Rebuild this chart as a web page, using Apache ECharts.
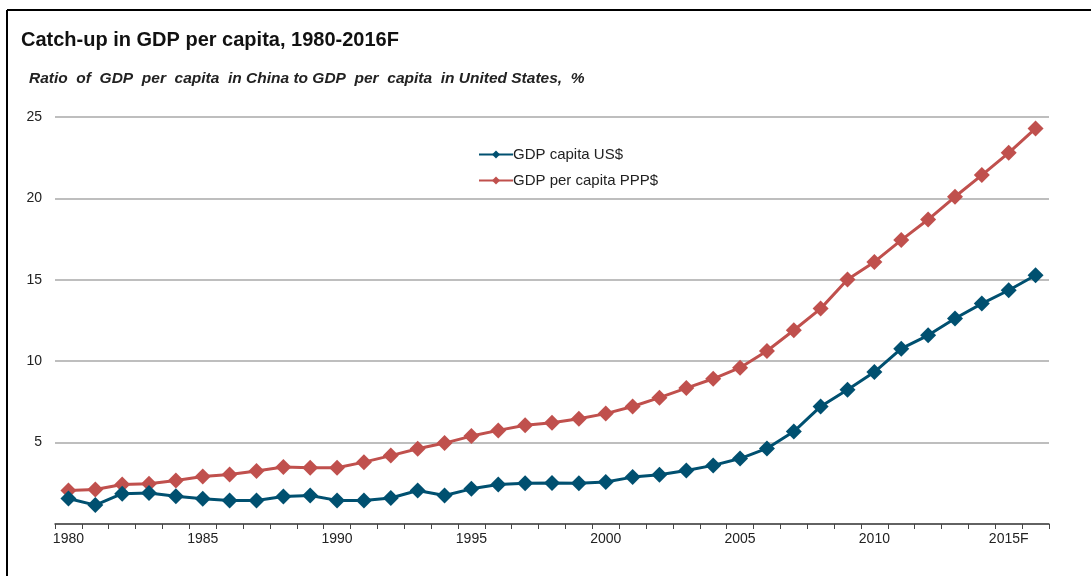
<!DOCTYPE html>
<html>
<head>
<meta charset="utf-8">
<script src="https://cdn.jsdelivr.net/npm/echarts@6/dist/echarts.min.js"></script>
<style>
html,body{margin:0;padding:0;background:#fff;}
#chart{width:1091px;height:576px;}
</style>
</head>
<body>
<div id="chart"></div>
<script>
var categories = ['1980','1981','1982','1983','1984','1985','1986','1987','1988','1989',
  '1990','1991','1992','1993','1994','1995','1996','1997','1998','1999',
  '2000','2001','2002','2003','2004','2005','2006','2007','2008','2009',
  '2010','2011','2012','2013','2014','2015F','2016'];
var gdpUsd = [1.57,1.16,1.86,1.9,1.71,1.55,1.45,1.45,1.69,1.75,
  1.45,1.45,1.6,2.06,1.75,2.16,2.43,2.5,2.52,2.5,
  2.58,2.88,3.02,3.29,3.6,4.02,4.64,5.68,7.22,8.25,
  9.33,10.77,11.59,12.62,13.54,14.36,15.28];
var gdpPpp = [2.06,2.12,2.43,2.47,2.67,2.92,3.04,3.25,3.5,3.45,
  3.45,3.8,4.2,4.62,4.97,5.4,5.75,6.06,6.22,6.47,
  6.78,7.22,7.76,8.35,8.92,9.6,10.63,11.9,13.23,15.02,
  16.1,17.44,18.7,20.1,21.43,22.8,24.3];
var seriesNames = ['GDP capita US$','GDP per capita PPP$'];
var yTicks = [0,5,10,15,20,25];

var chart = echarts.init(document.getElementById('chart'));
var font = 'Liberation Sans, Arial, sans-serif';
chart.setOption({
  backgroundColor:'#fff',
  animation:false,
  textStyle:{fontFamily:font},
  title:[
    {text:'Catch-up in GDP per capita, 1980-2016F', left:16, top:25,
     textStyle:{fontSize:20, fontWeight:'bold', color:'#111', fontFamily:font}},
    {text:'Ratio  of  GDP  per  capita  in China to GDP  per  capita  in United States,  %', left:24, top:66,
     textStyle:{fontSize:15.5, fontWeight:'bold', fontStyle:'italic', color:'#222', fontFamily:font}}
  ],
  graphic:[
    {type:'line', shape:{x1:7,y1:10,x2:1091,y2:10}, style:{stroke:'#000',lineWidth:2}},
    {type:'line', shape:{x1:7,y1:10,x2:7,y2:576}, style:{stroke:'#000',lineWidth:2}}
  ],
  legend:{
    orient:'vertical', left:473, top:142, itemGap:11,
    itemWidth:34, itemHeight:10,
    textStyle:{fontSize:15, color:'#222', fontFamily:font, padding:[0,0,0,-5]},
    data:seriesNames
  },
  grid:{left:55, right:42, top:117, bottom:52},
  xAxis:{
    type:'category', data:categories, boundaryGap:true,
    axisLine:{lineStyle:{color:'#444', width:1.5}},
    axisTick:{show:true, interval:0, length:5, lineStyle:{color:'#444'}},
    axisLabel:{interval:4, color:'#222', fontSize:14, margin:8, fontFamily:font},
    splitLine:{show:false}
  },
  yAxis:{
    type:'value', min:yTicks[0], max:yTicks[yTicks.length-1], interval:5,
    axisLine:{show:false}, axisTick:{show:false},
    axisLabel:{color:'#222', fontSize:14, margin:13, fontFamily:font,
      formatter:function(v){return v===0?'':v;}},
    splitLine:{lineStyle:{color:'#a8a8a8', width:1.5}}
  },
  series:[
    {name:seriesNames[0], type:'line', data:gdpUsd, symbol:'diamond', symbolSize:16,
     color:'#005070', lineStyle:{width:3, color:'#005070'}, itemStyle:{color:'#005070'}, z:3},
    {name:seriesNames[1], type:'line', data:gdpPpp, symbol:'diamond', symbolSize:16,
     color:'#C0504D', lineStyle:{width:3, color:'#C0504D'}, itemStyle:{color:'#C0504D'}, z:2}
  ]
});
</script>
</body>
</html>
